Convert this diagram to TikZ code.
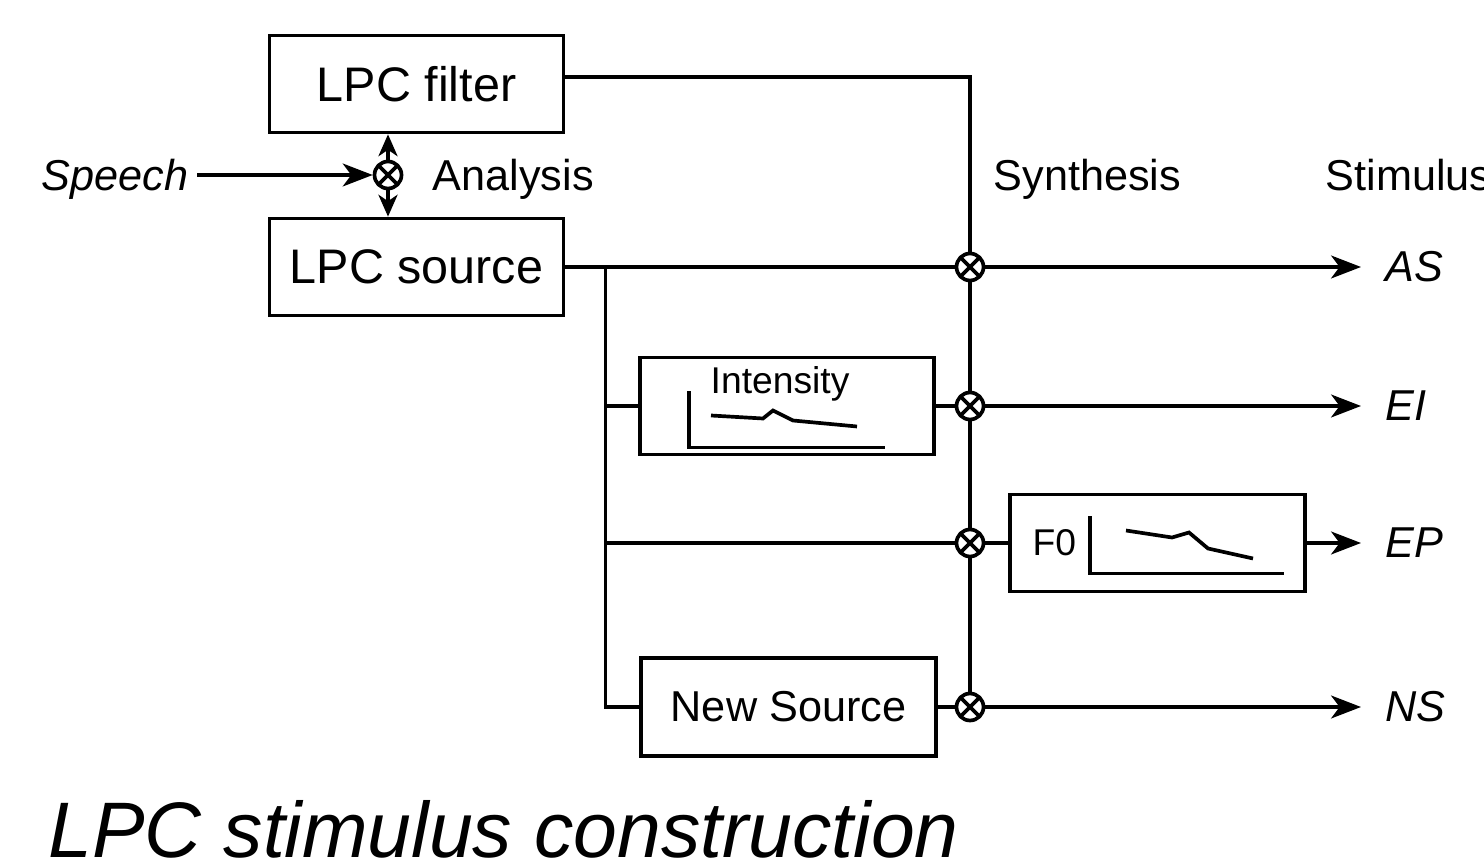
\documentclass[tikz,border=0pt]{standalone}
\usepackage{fontspec}
\setmainfont{Liberation Sans}
\usetikzlibrary{arrows.meta,positioning,calc}

\begin{document}
\begin{tikzpicture}[
            block/.style={rectangle, draw=black, line width=1.05pt, minimum width=2.94cm, minimum height=0.97cm,
            inner sep=0pt, text centered, font=\fontsize{13.8}{16}\selectfont},
            mult/.style={circle, draw=black, fill=white, line width=1.05pt, minimum size=0.27cm, inner sep=0pt,
            path picture={\draw[line width=1.05pt] (path picture bounding box.north west) -- (path picture bounding box.south east)
            (path picture bounding box.north east) -- (path picture bounding box.south west);}},
            lab/.style={inner sep=0pt, font=\fontsize{12.3}{14}\selectfont},
            stim/.style={inner sep=0pt, inner xsep=0.24cm, anchor=west, font=\fontsize{12.3}{14}\selectfont\itshape},
            small/.style={inner sep=0pt, anchor=base west, font=\fontsize{10.6}{12}\selectfont},
            wire/.style={line width=1.05pt},
            arr/.style={wire, -{Stealth[length=8.5pt,width=6.5pt,inset=2.4pt]}},
            shortarr/.style={wire, -{Stealth[length=6.2pt,width=5.4pt,inset=1.8pt]}}]
            \useasboundingbox (0,0) rectangle (14.84,8.63);

            % analysis
            \node (filter) [block] at (4.165,7.79) {LPC filter};
            \node (source) [block] at (4.165,5.96) {LPC source};
            \node (mA) [mult] at (3.88,6.88) {};
            \node (speech) [lab, anchor=base east, inner xsep=0.08cm] at (1.97,6.72) {\itshape Speech};
            \node (analysis) [lab, anchor=base west] at (4.32,6.72) {Analysis};
            \node (synthesis) [lab, anchor=base west] at (9.93,6.72) {Synthesis};
            \node (stimulus) [lab, anchor=base west] at (13.25,6.72) {Stimulus};

            \draw [arr] (speech.east |- mA.west) -- (mA.west);
            \draw [shortarr] (mA.north) -- (mA.north |- filter.south);
            \draw [shortarr] (mA.south) -- (mA.south |- source.north);

            % synthesis
            \node (mAS) [mult] at (9.70,5.96) {};
            \node (intens) [block] at (7.87,4.57) {};
            \node (mEI) [mult] at (9.70,4.57) {};
            \node (mEP) [mult] at (9.70,3.20) {};
            \node (f0) [block, minimum width=2.95cm] at (11.575,3.20) {};
            \node (newsrc) [block, minimum width=2.95cm, minimum height=0.98cm, font=\fontsize{12.3}{14}\selectfont] at (7.885,1.56) {New Source};
            \node (mNS) [mult] at (9.70,1.56) {};

            \node (AS) [stim] at (13.61,5.96) {AS};
            \node (EI) [stim] at (13.61,4.57) {EI};
            \node (EP) [stim] at (13.61,3.20) {EP};
            \node (NS) [stim] at (13.61,1.56) {NS};

            % intensity contour
            \begin{scope}[shift={(intens.center)}]
                \node (intlab) [small] at (-0.77,0.125) {Intensity};
                \draw [wire] (-0.98,0.145) -- (-0.98,-0.415) -- (0.98,-0.415);
                \draw [wire] (-0.76,-0.095) -- (-0.24,-0.125) -- (-0.14,-0.045) -- (0.06,-0.145) -- (0.70,-0.205);
            \end{scope}

            % F0 contour
            \begin{scope}[shift={(f0.center)}]
                \node (f0lab) [small] at (-1.255,-0.125) {F0};
                \draw [wire] (-0.675,0.265) -- (-0.675,-0.305) -- (1.265,-0.305);
                \draw [wire] (-0.315,0.125) -- (0.145,0.055) -- (0.315,0.105) -- (0.505,-0.055) -- (0.955,-0.155);
            \end{scope}

            \coordinate (br) at ($(source.east)+(0.40,0)$);
            \draw [wire] ([yshift=0.07cm]filter.east) -| (mAS.north);
            \draw [wire] (mAS.south) -- (mEI.north);
            \draw [wire] (mEI.south) -- (mEP.north);
            \draw [wire] (mEP.south) -- (mNS.north);
            \draw [wire] (source.east) -- (mAS.west);
            \draw [wire] (br) |- (newsrc.west);
            \draw [wire] (br |- intens.west) -- (intens.west);
            \draw [wire] (br |- mEP.west) -- (mEP.west);
            \draw [wire] (intens.east) -- (mEI.west);
            \draw [wire] (newsrc.east) -- (mNS.west);
            \draw [wire] (mEP.east) -- (f0.west);
            \draw [arr] (mAS.east) -- (AS.west);
            \draw [arr] (mEI.east) -- (EI.west);
            \draw [arr] (f0.east) -- (EP.west);
            \draw [arr] (mNS.east) -- (NS.west);

            \node (title) [inner sep=0pt, anchor=base west, font=\fontsize{22.4}{26}\selectfont\itshape] at (0.48,0.06) {LPC stimulus construction};
        \end{tikzpicture}
\end{document}
